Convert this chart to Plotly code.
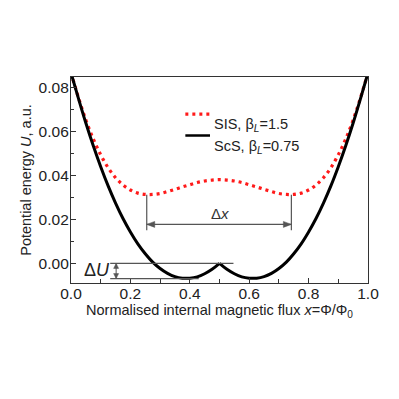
import plotly.graph_objects as go

# ---- data ----
x_flux = [0.000, 0.025, 0.050, 0.075, 0.100, 0.125, 0.150, 0.175, 0.200, 0.225,
          0.250, 0.275, 0.300, 0.325, 0.350, 0.375, 0.400, 0.425, 0.450, 0.475,
          0.500, 0.525, 0.550, 0.575, 0.600, 0.625, 0.650, 0.675, 0.700, 0.725,
          0.750, 0.775, 0.800, 0.825, 0.850, 0.875, 0.900, 0.925, 0.950, 0.975, 1.000]

u_sis = [0.0865, 0.0753, 0.0651, 0.0565, 0.0493, 0.0434, 0.0389, 0.0356, 0.0333, 0.0319,
         0.0313, 0.0313, 0.0317, 0.0326, 0.0336, 0.0347, 0.0357, 0.0367, 0.0374, 0.0378,
         0.0380, 0.0378, 0.0374, 0.0367, 0.0357, 0.0347, 0.0336, 0.0326, 0.0317, 0.0313,
         0.0313, 0.0319, 0.0333, 0.0356, 0.0389, 0.0434, 0.0493, 0.0565, 0.0651, 0.0753, 0.0865]

u_scs = [0.0865, 0.0749, 0.0637, 0.0534, 0.0439, 0.0352, 0.0274, 0.0204, 0.0143, 0.0089,
         0.0044, 0.0006, -0.0023, -0.0045, -0.0060, -0.0067, -0.0067, -0.0061, -0.0047, -0.0027,
         0.0000, -0.0027, -0.0047, -0.0061, -0.0067, -0.0067, -0.0060, -0.0045, -0.0023, 0.0006,
         0.0044, 0.0089, 0.0143, 0.0204, 0.0274, 0.0352, 0.0439, 0.0534, 0.0637, 0.0749, 0.0865]

series_names = ["SIS, β<sub><i>L</i></sub>=1.5", "ScS, β<sub><i>L</i></sub>=0.75"]
x_ticks = [0.0, 0.2, 0.4, 0.6, 0.8, 1.0]
y_ticks = [0.00, 0.02, 0.04, 0.06, 0.08]

# annotation geometry (data units)
dx_left, dx_right, dx_level, sis_min = 0.255, 0.742, 0.0177, 0.0311
du_top, du_bottom, du_x = 0.0, -0.0069, 0.152

RED = "#ff1a1a"
GREY = "#555555"
FONT = "Liberation Sans, Arial, sans-serif"

fig = go.Figure()
fig.add_trace(go.Scatter(x=x_flux, y=u_sis, mode="lines", line_shape="spline",
                         line=dict(color=RED, width=3.2, dash="3px,4px"),
                         showlegend=False))
fig.add_trace(go.Scatter(x=x_flux[:21], y=u_scs[:21], mode="lines", line_shape="spline",
                         line=dict(color="black", width=3), showlegend=False))
fig.add_trace(go.Scatter(x=x_flux[20:], y=u_scs[20:], mode="lines", line_shape="spline",
                         line=dict(color="black", width=3), showlegend=False))


def head(xa, ya, path):
    return dict(type="path", xref="x", yref="y", xsizemode="pixel", ysizemode="pixel",
                xanchor=xa, yanchor=ya, path=path,
                fillcolor=GREY, line=dict(color=GREY, width=0.5))


shapes = [
    # delta x vertical guides
    dict(type="line", xref="x", yref="y", x0=dx_left, x1=dx_left, y0=sis_min, y1=0.0150,
         line=dict(color=GREY, width=1.2)),
    dict(type="line", xref="x", yref="y", x0=dx_right, x1=dx_right, y0=sis_min, y1=0.0150,
         line=dict(color=GREY, width=1.2)),
    # delta x double arrow
    dict(type="line", xref="x", yref="y", x0=dx_left, x1=dx_right, y0=dx_level, y1=dx_level,
         line=dict(color=GREY, width=1.2)),
    head(dx_left, dx_level, "M0,0 L8,3 L8,-3 Z"),
    head(dx_right, dx_level, "M0,0 L-8,3 L-8,-3 Z"),
    # delta U horizontal guides
    dict(type="line", xref="x", yref="y", x0=0.132, x1=0.547, y0=du_top, y1=du_top,
         line=dict(color=GREY, width=1.2)),
    dict(type="line", xref="x", yref="y", x0=0.132, x1=0.430, y0=du_bottom, y1=du_bottom,
         line=dict(color=GREY, width=1.2)),
    # delta U double arrow
    dict(type="line", xref="x", yref="y", x0=du_x, x1=du_x, y0=du_top, y1=du_bottom,
         line=dict(color=GREY, width=1)),
    head(du_x, du_top, "M0,0 L-2.5,-5 L2.5,-5 Z"),
    head(du_x, du_bottom, "M0,0 L-2.5,5 L2.5,5 Z"),
    # legend samples
    dict(type="line", xref="paper", yref="paper", x0=0.385, x1=0.468, y0=0.820, y1=0.820,
         line=dict(color=RED, width=3.2, dash="3px,4px")),
    dict(type="line", xref="paper", yref="paper", x0=0.385, x1=0.468, y0=0.716, y1=0.716,
         line=dict(color="black", width=2.5)),
]

annotations = [
    dict(x=0.502, y=0.0226, xref="x", yref="y", text="Δ<i>x</i>", showarrow=False,
         font=dict(size=15, color="#333333", family=FONT)),
    dict(x=0.086, y=-0.0031, xref="x", yref="y", text="Δ<i>U</i>", showarrow=False,
         font=dict(size=18, color="#222222", family=FONT)),
    dict(x=0.474, y=0.820, xref="paper", yref="paper", xanchor="left", text=series_names[0],
         showarrow=False, font=dict(size=14.5, color="#222222", family=FONT)),
    dict(x=0.474, y=0.716, xref="paper", yref="paper", xanchor="left", text=series_names[1],
         showarrow=False, font=dict(size=14.5, color="#222222", family=FONT)),
]

# page body has an 8px default margin, so margins are shifted by 8px
fig.update_layout(
    width=399, height=399,
    margin=dict(l=63, r=39, t=69, b=124, autoexpand=False),
    paper_bgcolor="white", plot_bgcolor="white",
    font=dict(family=FONT, color="#222222"),
    shapes=shapes, annotations=annotations,
    xaxis=dict(range=[0, 1], tickvals=x_ticks, ticktext=[f"{v:.1f}" for v in x_ticks],
               ticks="inside", ticklen=5, tickwidth=1, tickcolor="#333333",
               minor=dict(dtick=0.1, ticks="inside", ticklen=4, tickcolor="#333333"),
               showline=True, linecolor="#333333", linewidth=1.3, mirror=True,
               showgrid=False, zeroline=False, ticklabelstandoff=-4,
               tickfont=dict(size=15.5, family=FONT, color="#222222"),
               title=dict(text="Normalised internal magnetic flux <i>x</i>=Φ/Φ<sub>0</sub>",
                          font=dict(size=14.5, family=FONT, color="#222222"), standoff=0)),
    yaxis=dict(range=[-0.0089, 0.0846], tickvals=y_ticks,
               ticktext=[f"{v:.2f}" for v in y_ticks],
               ticks="inside", ticklen=5, tickwidth=1, tickcolor="#333333",
               minor=dict(dtick=0.01, ticks="inside", ticklen=3, tickcolor="#333333"),
               showline=True, linecolor="#333333", linewidth=1.3, mirror=True,
               showgrid=False, zeroline=False, ticklabelstandoff=-2,
               tickfont=dict(size=15.5, family=FONT, color="#222222"),
               title=dict(text="Potential energy <i>U</i>, a.u.",
                          font=dict(size=14.5, family=FONT, color="#222222"), standoff=3)),
)

fig.write_html("out.html")
